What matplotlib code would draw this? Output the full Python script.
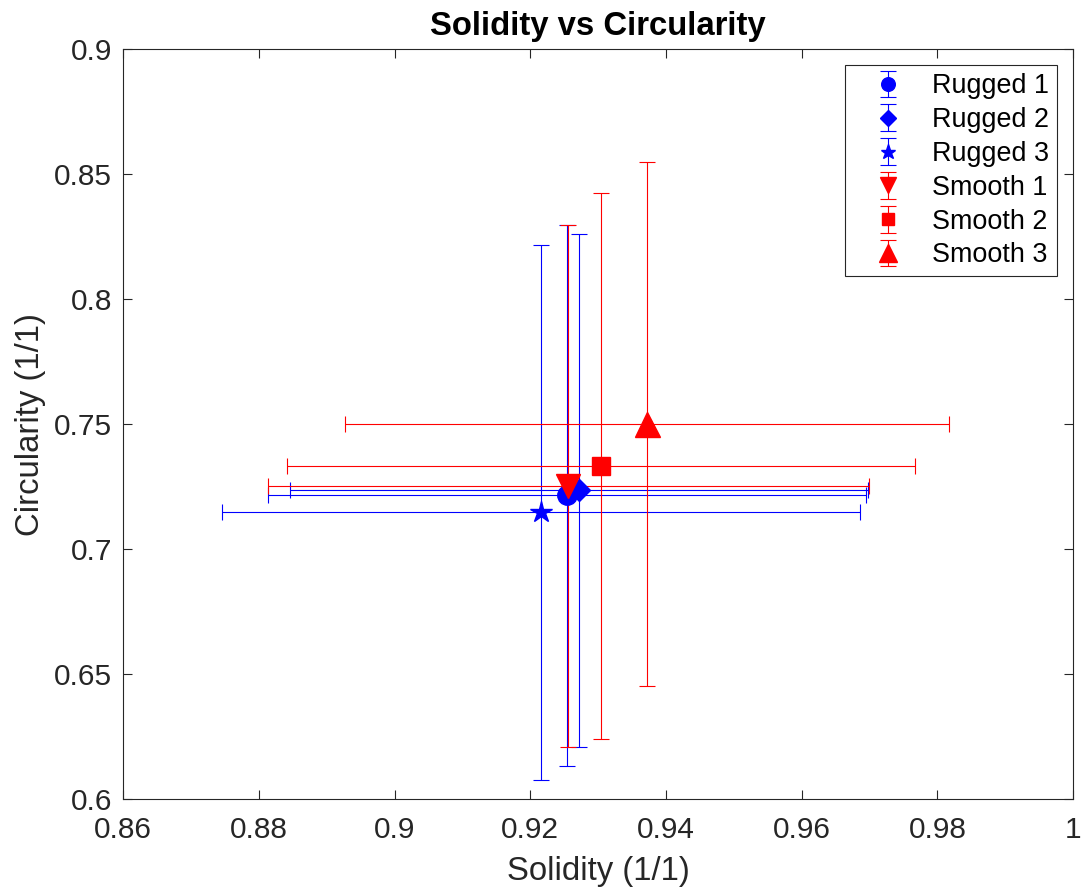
import matplotlib

matplotlib.use("Agg")
import matplotlib.pyplot as plt

# mean solidity / circularity per sample, with symmetric std errors
labels = ["Rugged 1", "Rugged 2", "Rugged 3", "Smooth 1", "Smooth 2", "Smooth 3"]
solidity = [0.9254, 0.9272, 0.9216, 0.9256, 0.9304, 0.9372]
solidity_err = [0.0441, 0.0426, 0.0470, 0.0443, 0.0463, 0.0445]
circularity = [0.7217, 0.7237, 0.7149, 0.7253, 0.7334, 0.7501]
circularity_err = [0.1082, 0.1026, 0.1070, 0.1044, 0.1093, 0.1048]
colors = ["#0000ff", "#0000ff", "#0000ff", "#ff0000", "#ff0000", "#ff0000"]
markers = ["o", "D", "*", "v", "s", "^"]
marker_sizes = [14, 11, 16, 17, 13, 18]

INK = "#262626"
BASE = 21.5


def main() -> None:
    plt.rcParams["font.family"] = ["Liberation Sans", "DejaVu Sans"]
    fig = plt.figure(figsize=(10.83, 8.91), dpi=100)
    ax = fig.add_axes([0.1139, 0.1029, 0.8769, 0.8418])

    handles = []
    for i, lab in enumerate(labels):
        ax.errorbar(solidity[i], circularity[i], xerr=solidity_err[i], fmt="none",
                    ecolor=colors[i], elinewidth=0.8, capsize=5.5, capthick=0.8)
        h = ax.errorbar(solidity[i], circularity[i], yerr=circularity_err[i],
                        fmt=markers[i], color=colors[i], ms=marker_sizes[i], mec=colors[i],
                        elinewidth=0.8, capsize=5.5, capthick=0.8, label=lab)
        handles.append(h)

    ax.set_xlim(0.86, 1.0)
    ax.set_ylim(0.6, 0.9)
    ax.set_xticks([0.86, 0.88, 0.9, 0.92, 0.94, 0.96, 0.98, 1.0])
    ax.set_xticklabels(["0.86", "0.88", "0.9", "0.92", "0.94", "0.96", "0.98", "1"])
    ax.set_yticks([0.6, 0.65, 0.7, 0.75, 0.8, 0.85, 0.9])
    ax.set_yticklabels(["0.6", "0.65", "0.7", "0.75", "0.8", "0.85", "0.9"])
    ax.tick_params(direction="in", length=6.5, width=0.8, colors=INK, labelsize=BASE,
                   top=True, right=True)
    ax.tick_params(axis="x", pad=12)
    ax.tick_params(axis="y", pad=8)
    for s in ax.spines.values():
        s.set_color(INK)
        s.set_linewidth(0.8)

    ax.set_xlabel("Solidity (1/1)", fontsize=BASE * 1.1, color=INK, labelpad=9)
    ax.set_ylabel("Circularity (1/1)", fontsize=BASE * 1.1, color=INK, labelpad=6)
    ax.set_title("Solidity vs Circularity", fontsize=BASE * 1.1, fontweight="bold", pad=10)

    leg = ax.legend(handles=handles, loc="upper right", fontsize=BASE * 0.9,
                    markerscale=0.7, handlelength=2.6, handletextpad=0.35,
                    labelspacing=0.29, borderpad=0.3, borderaxespad=0.6,
                    fancybox=False, framealpha=1)
    leg.get_frame().set_edgecolor(INK)
    leg.get_frame().set_linewidth(0.8)

    fig.savefig("out.png", dpi=100)


if __name__ == "__main__":
    main()
